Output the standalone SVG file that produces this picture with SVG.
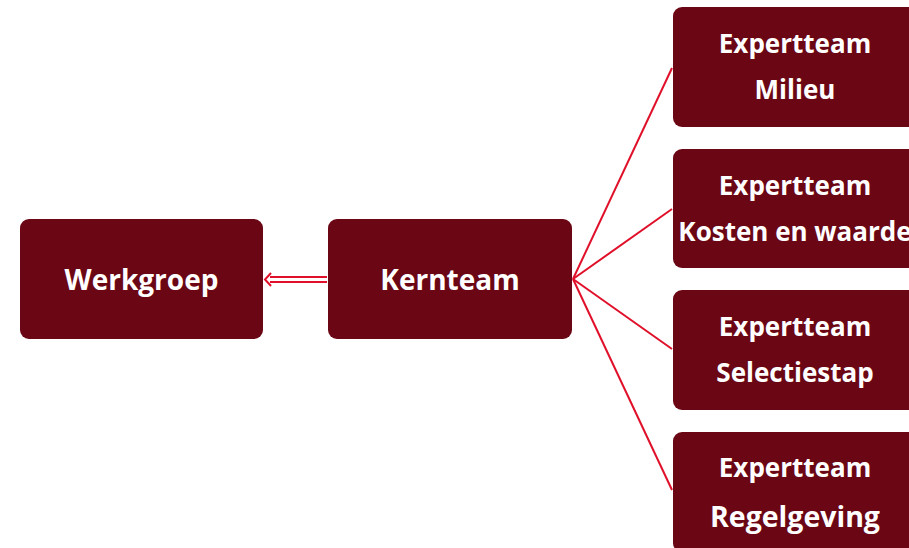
<svg xmlns="http://www.w3.org/2000/svg" width="909" height="548" viewBox="0 0 909 548">
<style>
.box{fill:#6b0715;}
.t{fill:#ffffff;font-family:"Open Sans","Noto Sans","DejaVu Sans",sans-serif;font-weight:700;font-size:26px;text-anchor:middle;}
.big{font-size:28px;}
.c{stroke:#e0102a;stroke-width:2;fill:none;}
</style>
<rect width="909" height="548" fill="#ffffff"/>
<g id="connectors">
<line class="c" x1="573" y1="279" x2="672" y2="68"/>
<line class="c" x1="573" y1="279" x2="672" y2="209"/>
<line class="c" x1="573" y1="279" x2="672" y2="349"/>
<line class="c" x1="573" y1="279" x2="672" y2="490"/>
<g id="double-arrow">
<line class="c" x1="270" y1="277" x2="327" y2="277"/>
<line class="c" x1="270" y1="282" x2="327" y2="282"/>
<path class="c" d="M271,273 L265,279.5 L271,286" stroke-width="2.5"/>
</g>
</g>
<g id="werkgroep">
<rect class="box" x="20" y="219" width="243" height="120" rx="9"/>
<text class="t big" x="141.5" y="290">Werkgroep</text>
</g>
<g id="kernteam">
<rect class="box" x="328" y="219" width="244" height="120" rx="9"/>
<text class="t big" x="450" y="290">Kernteam</text>
</g>
<g id="milieu">
<rect class="box" x="673" y="7" width="244" height="120" rx="9"/>
<text class="t" x="795" y="53">Expertteam</text>
<text class="t" x="795" y="99">Milieu</text>
</g>
<g id="kosten">
<rect class="box" x="673" y="149" width="244" height="119" rx="9"/>
<text class="t" x="795" y="195">Expertteam</text>
<text class="t" x="795" y="241">Kosten en waarde</text>
</g>
<g id="selectiestap">
<rect class="box" x="673" y="290" width="244" height="120" rx="9"/>
<text class="t" x="795" y="336">Expertteam</text>
<text class="t" x="795" y="382">Selectiestap</text>
</g>
<g id="regelgeving">
<rect class="box" x="673" y="432" width="244" height="120" rx="9"/>
<text class="t" x="795" y="477">Expertteam</text>
<text class="t" x="795" y="527" style="font-size:28.5px">Regelgeving</text>
</g>
</svg>
